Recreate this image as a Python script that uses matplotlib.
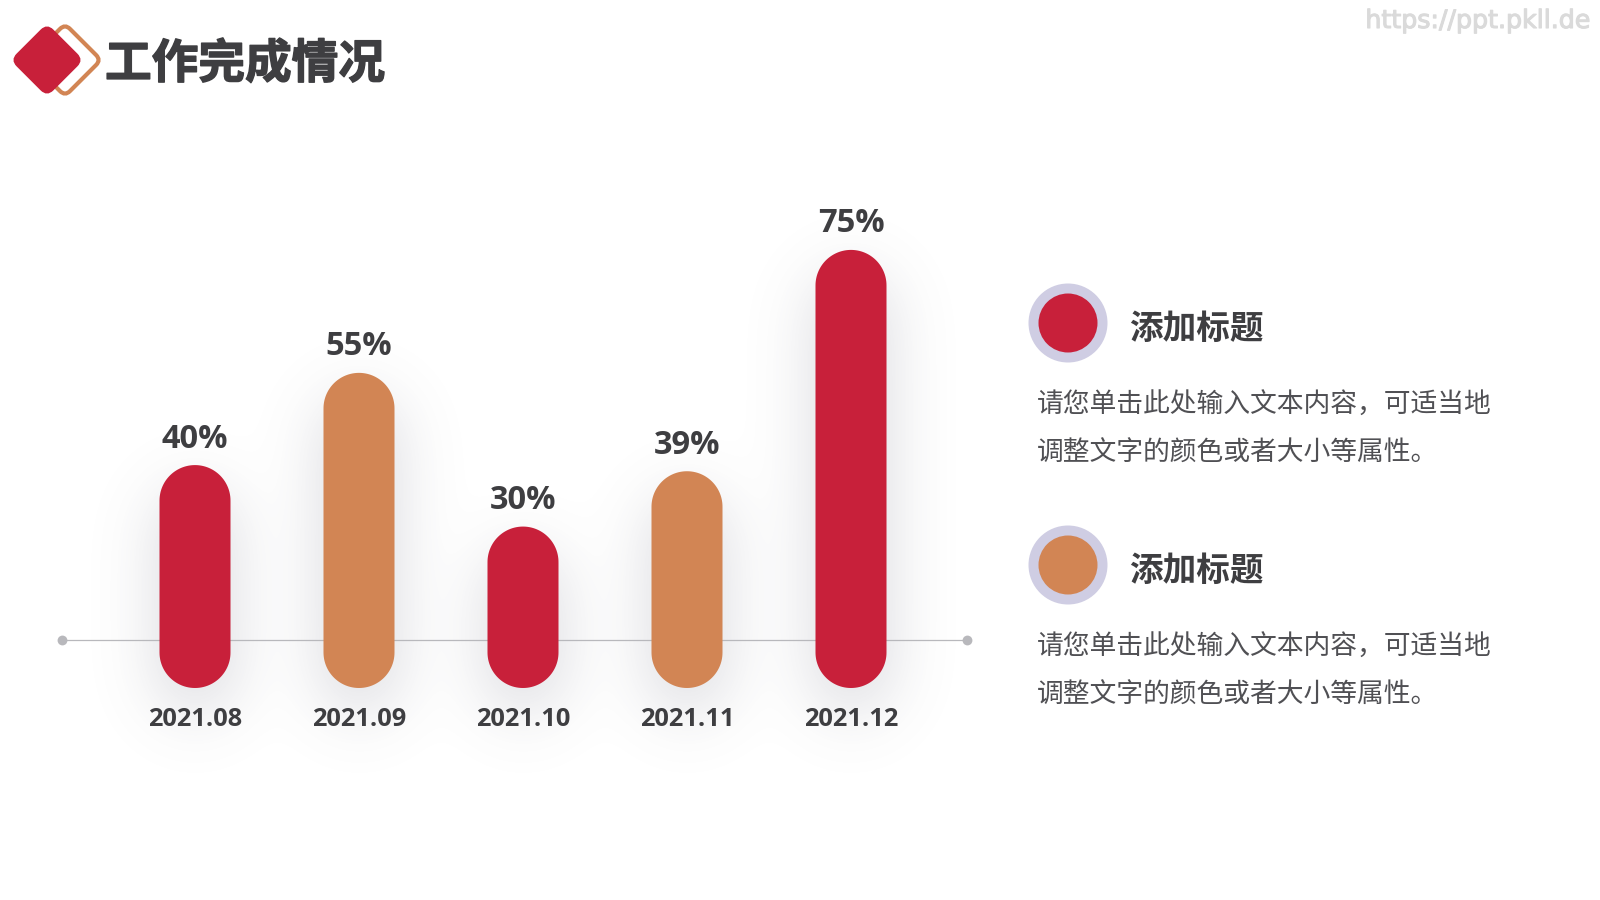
import matplotlib
matplotlib.use("Agg")
import matplotlib.pyplot as plt
import matplotlib.patheffects as pe
import numpy as np
from matplotlib.patches import Circle, FancyBboxPatch
from matplotlib.transforms import Affine2D

months = ["2021.08", "2021.09", "2021.10", "2021.11", "2021.12"]
completion = [40, 55, 30, 39, 75]
title = "工作完成情况"
legend_title = "添加标题"
legend_lines = ["请您单击此处输入文本内容，可适当地", "调整文字的颜色或者大小等属性。"]
watermark = "https://ppt.pkll.de"

RED = "#C8203A"
ORANGE = "#D28554"
INK = "#3E3E41"
BODY = "#505054"
HALO = "#CFCDE3"
W, H = 1600, 900
CJK = ["Noto Sans CJK SC", "DejaVu Sans"]
bar_colors = [RED, ORANGE, RED, ORANGE, RED]

# pill geometry in pixels
BAR_W = 71
BAR_BOTTOM = 688
ZERO_Y = 711
PX_PER_PCT = 6.148
STEP = 164
FIRST_X = 195


def gaussian_blur(img, sigma):
    fy = np.fft.fftfreq(img.shape[0])[:, None]
    fx = np.fft.rfftfreq(img.shape[1])[None, :]
    kernel = np.exp(-2 * (np.pi * sigma) ** 2 * (fx ** 2 + fy ** 2))
    return np.fft.irfft2(np.fft.rfft2(img) * kernel, s=img.shape)


def pill_mask(cx, top, bottom, width):
    yy, xx = np.mgrid[0:H, 0:W]
    r = width / 2
    cy = np.clip(yy, top + r, bottom - r)
    return ((xx - cx) ** 2 + (yy - cy) ** 2 <= r ** 2).astype(float)


def rotated_square(ax, cx, cy, side, rounding, **kw):
    patch = FancyBboxPatch(
        (-side / 2, -side / 2), side, side,
        boxstyle=f"round,pad=0,rounding_size={rounding}", **kw
    )
    patch.set_transform(Affine2D().rotate_deg(45).translate(cx, cy) + ax.transData)
    ax.add_patch(patch)


fig = plt.figure(figsize=(16, 9), dpi=100, facecolor="white")

# pixel-space layer for everything around the chart
bg = fig.add_axes([0, 0, 1, 1], zorder=0)
bg.set_xlim(0, W)
bg.set_ylim(H, 0)
bg.axis("off")

# chart layer: x is the month index, y is percent
left, right, top_px = 62, 967, 200
ax = fig.add_axes(
    [left / W, 1 - ZERO_Y / H, (right - left) / W, (ZERO_Y - top_px) / H],
    zorder=1, facecolor="none",
)
ax.set_xlim((left - FIRST_X) / STEP, (right - FIRST_X) / STEP)
ax.set_ylim(0, (ZERO_Y - top_px) / PX_PER_PCT)
ax.axis("off")

x = np.arange(len(months))
half_w = BAR_W / STEP / 2
cap_h = (BAR_W / 2) / PX_PER_PCT
base = (ZERO_Y - BAR_BOTTOM) / PX_PER_PCT
arc = np.linspace(0, np.pi, 60)

shadow = np.zeros((H, W))
for i, v in zip(x, completion):
    px, py = ax.transData.transform((i, v))
    shadow += pill_mask(px, H - py, BAR_BOTTOM, BAR_W)
    # one outline: top half circle, then bottom half circle
    xs = np.r_[i + half_w * np.cos(arc), i - half_w * np.cos(arc)]
    ys = np.r_[v - cap_h + cap_h * np.sin(arc), base + cap_h - cap_h * np.sin(arc)]
    ax.fill(xs, ys, color=bar_colors[i], lw=0)
    ax.annotate(f"{v}%", (i, v), xytext=(0, 26), textcoords="offset pixels",
                ha="center", va="center", fontsize=23.5, fontweight="bold",
                family="Open Sans", color=INK)
    ax.annotate(months[i], (i, base), xytext=(0, -32), textcoords="offset pixels",
                ha="center", va="center", fontsize=18.3, fontweight="bold",
                family="Open Sans", color=INK)

# soft drop shadow behind the pills
soft = gaussian_blur(np.roll(shadow, 24, axis=0), 32)
rgba = np.zeros((H, W, 4))
rgba[..., :3] = (0.42, 0.42, 0.50)
rgba[..., 3] = np.clip(soft * 0.26, 0, 1)
bg.imshow(rgba, extent=(0, W, H, 0), aspect="auto", zorder=1, interpolation="bilinear")
bg.set_xlim(0, W)
bg.set_ylim(H, 0)

# baseline with end dots
bg.plot([62, 967], [640, 640], color="#B8B8BC", lw=0.9, zorder=2)
bg.scatter([62, 967], [640, 640], s=50, color="#B8B8BC", linewidths=0, zorder=2)

# logo
rotated_square(bg, 65, 60, 51, 7, facecolor="none", edgecolor=ORANGE, linewidth=3.0, zorder=3)
rotated_square(bg, 47, 60, 52, 9, facecolor=RED, edgecolor="none", zorder=4)

bg.text(105, 64, title, fontsize=33.6, fontweight="bold", family=CJK, color=INK,
        ha="left", va="center", path_effects=[pe.withStroke(linewidth=1.0, foreground=INK)])
bg.text(1590, 21, watermark, fontsize=18.2, family="DejaVu Sans",
        color="#DADADA", ha="right", va="center",
        path_effects=[pe.withStroke(linewidth=0.8, foreground="#DADADA")])

# legend blocks
for cy, color in zip([323, 565], [RED, ORANGE]):
    bg.add_patch(Circle((1068, cy), 39.5, color=HALO, lw=0, zorder=3))
    bg.add_patch(Circle((1068, cy), 29.5, color=color, lw=0, zorder=4))
    bg.text(1129, cy + 6, legend_title, fontsize=24.2, fontweight="bold", family=CJK,
            color=INK, ha="left", va="center")
    for dy, line in zip([82, 130], legend_lines):
        bg.text(1037, cy + dy, line, fontsize=19.3, family=CJK, color=BODY,
                ha="left", va="center")

fig.savefig("out.png", dpi=100)
